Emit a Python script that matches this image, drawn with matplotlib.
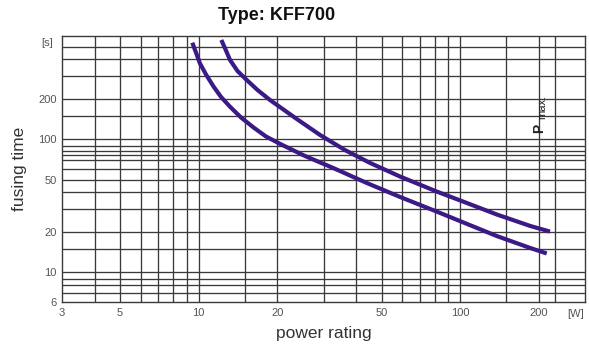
import matplotlib
matplotlib.use("Agg")
import matplotlib.pyplot as plt
from matplotlib.ticker import NullLocator

# curve data (power rating [W] -> fusing time [s])
lower_w = [9.45, 9.76, 10.1, 10.66, 11.4, 12.17, 13.17, 14.51, 16.2, 18.08, 20.5, 25.5,
           32.7, 43.9, 58.8, 81.3, 102.7, 137.9, 184.9, 214.2]
lower_s = [534, 450, 374, 308, 249.6, 208.7, 176.3, 146.3, 123.1, 105.3, 92.5, 75.1,
           61.0, 47.1, 37.0, 28.7, 23.8, 18.8, 15.3, 13.9]

upper_w = [12.2, 12.66, 13.17, 14.07, 15.26, 16.78, 18.73, 23.7, 29.1, 36.2, 45.2,
           58.8, 81.3, 102.7, 137.9, 184.9, 220.4]
upper_s = [560, 475, 396, 327, 280, 235.5, 198, 142.6, 108.1, 83.4, 66.6,
           52.7, 40.6, 34.1, 27.3, 22.4, 20.3]

# the printed grid is irregular, so list its lines
x_grid = [4, 5, 6, 7, 8, 9, 10, 15, 20, 30, 40, 50, 60, 70, 80, 90, 100, 150, 200, 230]
y_grid = [7, 8, 9, 10, 15, 20, 30, 40, 50, 60, 70, 76, 82, 90, 100, 150, 200, 300, 400, 500]

x_ticks = [3, 5, 10, 20, 50, 100, 200]
y_ticks = [6, 10, 20, 50, 100, 200]

plt.rcParams["font.family"] = ["Liberation Sans", "DejaVu Sans"]

CURVE = "#3b1a86"
GRID = "#3a3a3a"
LABEL = "#555555"

fig = plt.figure(figsize=(5.89, 3.46), dpi=100)
ax = fig.add_axes([0.1053, 0.1272, 0.8879, 0.7688])
ax.set_xscale("log")
ax.set_yscale("log")
ax.set_xlim(3, 300)
ax.set_ylim(6, 600)

for xv in x_grid:
    ax.axvline(xv, color=GRID, lw=0.95, zorder=1)
for yv in y_grid:
    ax.axhline(yv, color=GRID, lw=0.95, zorder=1)
for sp in ax.spines.values():
    sp.set_color(GRID)
    sp.set_linewidth(1.0)

ax.plot(lower_w, lower_s, color=CURVE, lw=3.0, solid_capstyle="butt",
        solid_joinstyle="round", zorder=3)
ax.plot(upper_w, upper_s, color=CURVE, lw=3.0, solid_capstyle="butt",
        solid_joinstyle="round", zorder=3)

ax.xaxis.set_minor_locator(NullLocator())
ax.yaxis.set_minor_locator(NullLocator())
ax.set_xticks(x_ticks)
ax.set_xticklabels([str(v) for v in x_ticks])
ax.set_yticks(y_ticks)
ax.set_yticklabels([str(v) for v in y_ticks])
ax.tick_params(length=0, labelsize=8, labelcolor=LABEL, pad=4)

ax.text(1.0 - 0.017, -0.027, "[W]", transform=ax.transAxes, ha="center", va="top",
        fontsize=8, color=LABEL)
ax.text(-0.018, 0.975, "[s]", transform=ax.transAxes, ha="right", va="center",
        fontsize=8, color=LABEL)

# P max. marker, rotated
ax.text(200, 122, "P", rotation=90, ha="center", va="center", fontsize=10,
        fontweight="bold", color="#222222")
ax.text(206, 175, "max.", rotation=90, ha="center", va="center", fontsize=8,
        color="#222222")

ax.set_xlabel("power rating", fontsize=12.5, color="#333333", labelpad=6)
ax.set_ylabel("fusing time", fontsize=12.5, color="#333333", labelpad=8)
fig.text(0.47, 0.955, "Type: KFF700", ha="center", va="center", fontsize=13,
         fontweight="bold", color="#111111")

fig.savefig("out.png", dpi=100)
